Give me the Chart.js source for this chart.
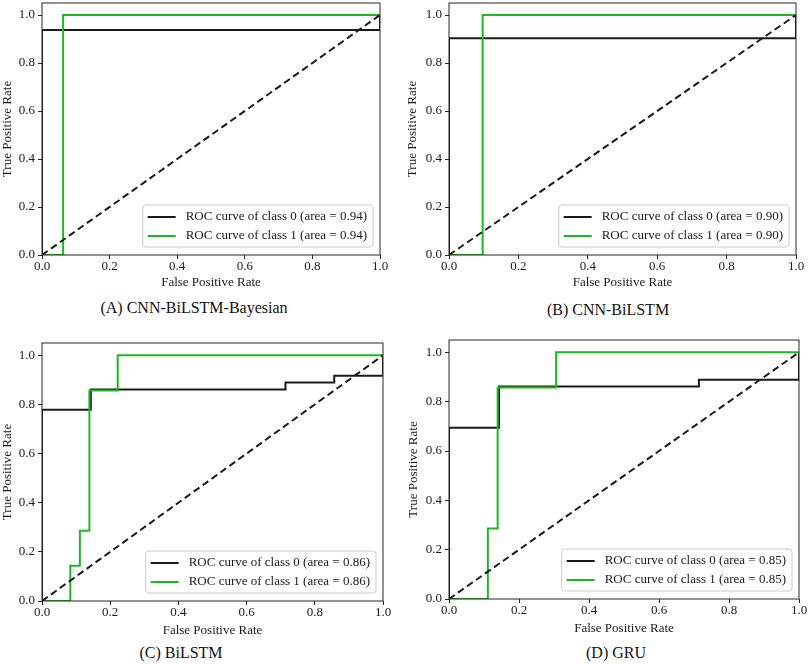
<!DOCTYPE html>
<html>
<head>
<meta charset="utf-8">
<script src="https://cdn.jsdelivr.net/npm/chart.js@4.4.1/dist/chart.umd.min.js"></script>
<style>
  html, body { margin: 0; padding: 0; background: #fff; }
  body { width: 809px; height: 664px; position: relative; overflow: hidden;
         font-family: "Liberation Serif", "Times New Roman", serif; }
  .panel { position: absolute; }
  .cap { position: absolute; width: 300px; text-align: center; font-size: 16px;
         line-height: 20px; color: #111; white-space: nowrap; }
</style>
</head>
<body>
<div class="panel" id="pA"><canvas id="cA"></canvas></div>
<div class="panel" id="pB"><canvas id="cB"></canvas></div>
<div class="panel" id="pC"><canvas id="cC"></canvas></div>
<div class="panel" id="pD"><canvas id="cD"></canvas></div>
<div class="cap" id="capA"></div>
<div class="cap" id="capB"></div>
<div class="cap" id="capC"></div>
<div class="cap" id="capD"></div>
<script>
// tick values shared by both axes of every panel
const axisTicks = [0, 0.2, 0.4, 0.6, 0.8, 1.0];
const chanceFpr = [0, 1];
const chanceTpr = [0, 1];

// (A) CNN-BiLSTM-Bayesian
const fprA0 = [0, 0, 1, 1];
const tprA0 = [0, 0.9375, 0.9375, 1];
const fprA1 = [0, 0.0625, 0.0625, 1];
const tprA1 = [0, 0, 1, 1];
const aucA = [0.94, 0.94];

// (B) CNN-BiLSTM
const fprB0 = [0, 0, 1, 1];
const tprB0 = [0, 0.903, 0.903, 1];
const fprB1 = [0, 0.097, 0.097, 1];
const tprB1 = [0, 0, 1, 1];
const aucB = [0.90, 0.90];

// (C) BiLSTM
const fprC0 = [0, 0, 0.143, 0.143, 0.714, 0.714, 0.857, 0.857, 1, 1];
const tprC0 = [0, 0.778, 0.778, 0.861, 0.861, 0.889, 0.889, 0.917, 0.917, 1];
const fprC1 = [0, 0.083, 0.083, 0.111, 0.111, 0.139, 0.139, 0.222, 0.222, 1];
const tprC1 = [0, 0, 0.143, 0.143, 0.286, 0.286, 0.857, 0.857, 1, 1];
const aucC = [0.86, 0.86];

// (D) GRU
const fprD0 = [0, 0, 0.143, 0.143, 0.714, 0.714, 1, 1];
const tprD0 = [0, 0.694, 0.694, 0.861, 0.861, 0.889, 0.889, 1];
const fprD1 = [0, 0.111, 0.111, 0.139, 0.139, 0.306, 0.306, 1];
const tprD1 = [0, 0, 0.286, 0.286, 0.857, 0.857, 1, 1];
const aucD = [0.85, 0.85];

const captions = ['(A) CNN-BiLSTM-Bayesian', '(B) CNN-BiLSTM', '(C) BiLSTM', '(D) GRU'];

const INK = '#1a1a1a';
const GREEN = '#1fb81f';
const FONT = '"Liberation Serif", "Times New Roman", serif';

function pts(xs, ys) {
  return xs.map((x, i) => ({ x: x, y: ys[i] }));
}

// box + frame, and a matplotlib-like legend in the lower right corner
const frameAndLegend = {
  id: 'frameAndLegend',
  afterDraw(chart) {
    const ctx = chart.ctx;
    const a = chart.chartArea;
    ctx.save();
    ctx.strokeStyle = '#262626';
    ctx.lineWidth = 1;
    ctx.strokeRect(a.left, a.top, a.right - a.left, a.bottom - a.top);

    const items = chart.data.datasets.filter(d => d.label);
    ctx.font = '13px ' + FONT;
    const textW = Math.max.apply(null, items.map(d => ctx.measureText(d.label).width));
    const w = 5 + 28 + 10 + textW + 6, h = 42;
    const x = a.right - 7 - w, y = a.bottom - 8 - h;
    ctx.beginPath();
    ctx.roundRect(x, y, w, h, 3);
    ctx.fillStyle = 'rgba(255,255,255,0.8)';
    ctx.fill();
    ctx.strokeStyle = '#cccccc';
    ctx.stroke();
    items.forEach((d, i) => {
      const cy = y + 12 + i * 19;
      ctx.strokeStyle = d.borderColor;
      ctx.lineWidth = 2;
      ctx.beginPath();
      ctx.moveTo(x + 5, cy);
      ctx.lineTo(x + 33, cy);
      ctx.stroke();
      ctx.fillStyle = INK;
      ctx.textBaseline = 'middle';
      ctx.textAlign = 'left';
      ctx.fillText(d.label, x + 43, cy);
    });
    ctx.restore();
  }
};

function makePanel(key, box, area, capPos, f0, t0, f1, t1, auc, caption) {
  const div = document.getElementById('p' + key);
  div.style.left = box.left + 'px';
  div.style.top = box.top + 'px';
  div.style.width = box.width + 'px';
  div.style.height = box.height + 'px';

  const cap = document.getElementById('cap' + key);
  cap.textContent = caption;
  cap.style.left = (capPos.x - 150) + 'px';
  cap.style.top = (capPos.y - 10) + 'px';

  const yAxisW = area.l - box.left;
  const xAxisH = box.top + box.height - area.b;

  const tickStyle = {
    color: INK,
    font: { family: FONT, size: 13 },
    callback: v => Number(v).toFixed(1)
  };
  const gridStyle = {
    display: true,
    drawOnChartArea: false,
    drawTicks: true,
    tickLength: 4,
    color: '#262626'
  };

  return new Chart(document.getElementById('c' + key), {
    type: 'scatter',
    data: {
      datasets: [{
        label: 'ROC curve of class 0 (area = ' + auc[0].toFixed(2) + ')',
        data: pts(f0, t0),
        borderColor: INK,
        borderWidth: 2,
        order: 2
      }, {
        label: 'ROC curve of class 1 (area = ' + auc[1].toFixed(2) + ')',
        data: pts(f1, t1),
        borderColor: GREEN,
        borderWidth: 2,
        order: 1
      }, {
        label: '',
        data: pts(chanceFpr, chanceTpr),
        borderColor: INK,
        borderWidth: 2,
        borderDash: [7, 4],
        order: 0
      }]
    },
    options: {
      responsive: true,
      maintainAspectRatio: false,
      animation: false,
      showLine: true,
      elements: {
        point: { radius: 0, hoverRadius: 0 },
        line: { tension: 0, fill: false }
      },
      layout: {
        padding: {
          left: 0,
          bottom: 0,
          top: area.t - box.top,
          right: box.left + box.width - area.r
        }
      },
      plugins: {
        legend: { display: false },
        tooltip: { enabled: false }
      },
      scales: {
        x: {
          type: 'linear',
          min: 0,
          max: 1,
          border: { display: false },
          grid: gridStyle,
          ticks: Object.assign({ padding: 0, maxRotation: 0, autoSkip: false }, tickStyle),
          afterBuildTicks: s => { s.ticks = axisTicks.map(v => ({ value: v })); },
          afterFit: s => { s.height = xAxisH; s.paddingLeft = 0; s.paddingRight = 0; },
          title: {
            display: true,
            text: 'False Positive Rate',
            color: INK,
            font: { family: FONT, size: 13 },
            padding: 0
          }
        },
        y: {
          type: 'linear',
          min: 0,
          max: 1.05,
          border: { display: false },
          grid: gridStyle,
          ticks: Object.assign({ padding: 3 }, tickStyle),
          afterBuildTicks: s => { s.ticks = axisTicks.map(v => ({ value: v })); },
          afterFit: s => { s.width = yAxisW; s.paddingTop = 0; s.paddingBottom = 0; },
          title: {
            display: true,
            text: 'True Positive Rate',
            color: INK,
            font: { family: FONT, size: 13 },
            padding: 0
          }
        }
      }
    },
    plugins: [frameAndLegend]
  });
}

makePanel('A', { left: 0, top: 0, width: 392, height: 290 },
  { l: 42, r: 380, t: 3, b: 255 }, { x: 194, y: 308 },
  fprA0, tprA0, fprA1, tprA1, aucA, captions[0]);
makePanel('B', { left: 405, top: 0, width: 404, height: 290 },
  { l: 449, r: 796, t: 3, b: 255 }, { x: 608, y: 310 },
  fprB0, tprB0, fprB1, tprB1, aucB, captions[1]);
makePanel('C', { left: 0, top: 330, width: 392, height: 308 },
  { l: 42, r: 383, t: 343, b: 601 }, { x: 181, y: 653 },
  fprC0, tprC0, fprC1, tprC1, aucC, captions[2]);
makePanel('D', { left: 406, top: 330, width: 403, height: 306 },
  { l: 449, r: 799, t: 340, b: 599 }, { x: 616, y: 653 },
  fprD0, tprD0, fprD1, tprD1, aucD, captions[3]);
</script>
</body>
</html>
